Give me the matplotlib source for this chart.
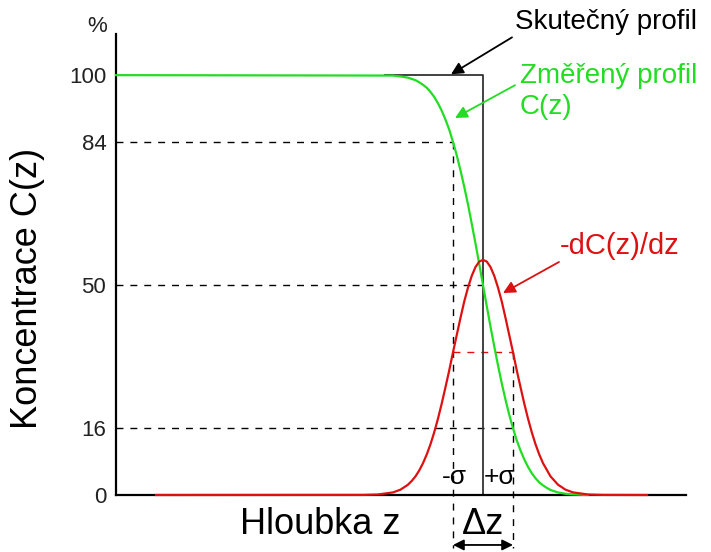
import matplotlib
matplotlib.use("Agg")
import matplotlib.pyplot as plt

plt.rcParams['font.family'] = ['Liberation Sans', 'DejaVu Sans']

# depth axis in arbitrary units (0 = left edge of the axis)
x_max = 570
y_max = 109.8

# measured profile C(z), %
meas_x = [0, 277, 284.5, 292, 295.75, 299.5, 303.25, 307, 310.75, 314.5, 318.25, 322, 325.75,
          329.5, 333.25, 337, 340.75, 344.5, 348.25, 352, 355.75, 359.5, 363.25, 367,
          370.75, 374.5, 378.25, 382, 385.75, 389.5, 393.25, 397, 400.75, 404.5, 408.25,
          412, 415.75, 419.5, 423.25, 427, 430.75, 434.5, 442, 449.5, 457, 472]
meas_y = [100, 99.9, 99.7, 99.4, 99.1, 98.8, 98.3, 97.7, 97.0, 96.0, 94.8, 93.3, 91.5,
          89.4, 87.0, 84.1, 80.9, 77.3, 73.4, 69.2, 64.6, 59.9, 55.0, 50,
          45.0, 40.1, 35.4, 30.9, 26.6, 22.7, 19.1, 15.9, 13.0, 10.6, 8.5,
          6.7, 5.2, 4.0, 3.0, 2.3, 1.7, 1.2, 0.6, 0.3, 0.13, 0.02]

# derivative -dC(z)/dz (scaled)
deriv_x = [40, 247, 262, 277, 284.5, 292, 295.75, 299.5, 303.25, 307, 310.75, 314.5, 318.25,
           322, 325.75, 329.5, 333.25, 337, 340.75, 344.5, 348.25, 352, 355.75, 359.5, 363.25,
           367, 370.75, 374.5, 378.25, 382, 385.75, 389.5, 393.25, 397, 400.75, 404.5, 408.25,
           412, 415.75, 419.5, 423.25, 427, 434.5, 442, 449.5, 457, 472, 487, 531]
deriv_y = [0, 0.02, 0.12, 0.62, 1.27, 2.46, 3.35, 4.44, 5.85, 7.58, 9.66, 12.1, 14.96,
           18.2, 21.8, 25.7, 29.7, 34.0, 38.1, 42.2, 46.1, 49.4, 52.2, 54.3, 55.6,
           56.0, 55.6, 54.3, 52.2, 49.4, 46.1, 42.2, 38.1, 34.0, 29.7, 25.7, 21.8,
           18.2, 14.96, 12.1, 9.66, 7.58, 4.44, 2.46, 1.27, 0.62, 0.12, 0.02, 0]

# true (step) profile
step_x = [269, 367, 367]
step_y = [100, 100, 0]

y_ticks = [0, 16, 50, 84, 100]
center = 367
minus_sigma = 337
plus_sigma = 397
sigma_level = 34.0

green = '#22dd22'
red = '#dd1111'

fig = plt.figure(figsize=(7.11, 5.52), dpi=100)
ax = fig.add_axes([116 / 711, 57 / 552, 570 / 711, 461 / 552])
ax.set_xlim(0, x_max)
ax.set_ylim(0, y_max)

for s in ['top', 'right']:
    ax.spines[s].set_visible(False)
for s in ['left', 'bottom']:
    ax.spines[s].set_linewidth(1.6)
    ax.spines[s].set_color('black')
ax.set_xticks([])
ax.set_yticks(y_ticks)
ax.set_yticklabels([str(v) for v in y_ticks], fontsize=16, color='#222222')
ax.tick_params(axis='y', length=0, pad=7)

dash = dict(color='black', lw=1.0, ls=(0, (5, 5)), clip_on=False, zorder=1)
ax.plot([0, minus_sigma], [84, 84], **dash)
ax.plot([0, center], [50, 50], **dash)
ax.plot([0, plus_sigma], [16, 16], **dash)
ax.plot([minus_sigma, minus_sigma], [84, -12.6], **dash)
ax.plot([plus_sigma, plus_sigma], [sigma_level, -12.6], **dash)
ax.plot([minus_sigma, plus_sigma], [sigma_level, sigma_level], color=red, lw=1.0,
        ls=(0, (5, 5)), zorder=1)

ax.plot(step_x, step_y, color='#333333', lw=1.3, zorder=2)
ax.plot(meas_x, meas_y, color=green, lw=1.6, zorder=3, clip_on=False,
        solid_joinstyle='round')
ax.plot(deriv_x, deriv_y, color=red, lw=1.6, zorder=4, clip_on=False,
        solid_joinstyle='round')

# labels
ax.text(-19, 111.5, '%', fontsize=16, ha='center', va='center', color='#222222')
fig.text(28 / 711, 1 - 288 / 552, 'Koncentrace C(z)', rotation=90, fontsize=26,
         ha='center', va='center')
ax.text(204, -7.1, 'Hloubka z', fontsize=26, ha='center', va='center')
ax.text(center, -7.1, 'Δz', fontsize=26, ha='center', va='center')
ax.text(338, 4.3, '-σ', fontsize=19, ha='center', va='center')
ax.text(384, 4.3, '+σ', fontsize=19, ha='center', va='center')

ax.annotate('', xy=(minus_sigma, -11.9), xytext=(plus_sigma, -11.9),
            arrowprops=dict(arrowstyle='<|-|>', color='black', lw=1.3, mutation_scale=16,
                            shrinkA=0, shrinkB=0), annotation_clip=False)

ax.text(399, 112.6, 'Skutečný profil', fontsize=20, ha='left', va='center', clip_on=False)
ax.annotate('', xy=(335, 100.2), xytext=(396, 109.0),
            arrowprops=dict(arrowstyle='-|>', color='black', lw=1.3, mutation_scale=18,
                            shrinkA=0, shrinkB=0), annotation_clip=False)

ax.text(404, 99.8, 'Změřený profil', fontsize=20, color=green, ha='left', va='center')
ax.text(404, 92.4, 'C(z)', fontsize=20, color=green, ha='left', va='center')
ax.annotate('', xy=(339, 89.8), xytext=(399, 97.6),
            arrowprops=dict(arrowstyle='-|>', color=green, lw=1.3, mutation_scale=18,
                            shrinkA=0, shrinkB=0))

ax.text(444, 59.3, '-dC(z)/dz', fontsize=21, color=red, ha='left', va='center')
ax.annotate('', xy=(387, 48.1), xytext=(443, 55.5),
            arrowprops=dict(arrowstyle='-|>', color=red, lw=1.3, mutation_scale=18,
                            shrinkA=0, shrinkB=0))

fig.savefig('out.png', dpi=100)
